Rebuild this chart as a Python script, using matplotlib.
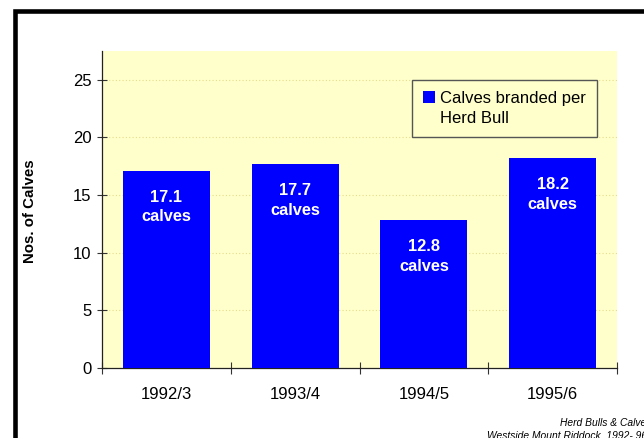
import matplotlib
matplotlib.use("Agg")
import matplotlib.pyplot as plt
from matplotlib.patches import Rectangle, Patch
from matplotlib.legend_handler import HandlerPatch
import numpy as np

categories = ["1992/3", "1993/4", "1994/5", "1995/6"]
calves_per_bull = [17.1, 17.7, 12.8, 18.2]
series_name = "Calves branded per\nHerd Bull"
y_ticks = [0, 5, 10, 15, 20, 25]

plt.rcParams['font.family'] = ['Liberation Sans', 'DejaVu Sans']

W, H = 644, 438
fig = plt.figure(figsize=(W / 100, H / 100), dpi=100)
fig.patch.set_facecolor("white")

# outer border (cropped on right/bottom)
fig.patches.append(Rectangle((14.8 / W, -0.2), 1.5, 1 - 11 / H + 0.2,
                             transform=fig.transFigure, fill=False,
                             edgecolor="black", linewidth=3.3))

ax = fig.add_axes([102 / W, 1 - 368 / H, (617 - 102) / W, (368 - 51) / H])
ax.set_facecolor("#ffffcc")

x = np.arange(len(categories))
bars = ax.bar(x, calves_per_bull, width=0.675, color="#0000ff", zorder=3)

ax.set_xlim(-0.5, len(categories) - 0.5)
ax.set_ylim(0, 27.5)
ax.set_yticks(y_ticks)
ax.set_yticklabels([str(v) for v in y_ticks], fontsize=12)
ax.yaxis.grid(True, linestyle=(0, (1, 2)), color="#e6dc8c", linewidth=0.8, zorder=1)
ax.set_axisbelow(True)

ax.set_xticks(x)
ax.set_xticklabels(categories, fontsize=12)
ax.set_xticks(np.arange(-0.5, len(categories)), minor=True)
ax.tick_params(axis="x", which="major", length=0, pad=14)
ax.tick_params(axis="x", which="minor", direction="inout", length=8, width=0.8, color="#333333")
ax.tick_params(axis="y", direction="inout", length=7, width=0.8, color="#333333", pad=4)

for s in ["top", "right"]:
    ax.spines[s].set_visible(False)
for s in ["left", "bottom"]:
    ax.spines[s].set_color("#222222")
    ax.spines[s].set_linewidth(0.9)

fig.text(30.5 / W, 1 - 211 / H, "Nos. of Calves", rotation=90, ha="center",
         va="center", fontsize=10.8, fontweight="bold")

for b, v in zip(bars, calves_per_bull):
    ax.annotate(f"{v}\ncalves", (b.get_x() + b.get_width() / 2, v),
                xytext=(0, -13.5), textcoords="offset points",
                ha="center", va="top", color="white", fontsize=11.8,
                fontweight="bold", linespacing=1.4, zorder=4)


class TopHandler(HandlerPatch):
    def create_artists(self, legend, orig_handle, xdescent, ydescent,
                       width, height, fontsize, trans):
        p = Rectangle((-xdescent, -ydescent + fontsize * 0.68), width, height,
                      facecolor=orig_handle.get_facecolor(), edgecolor="none",
                      transform=trans)
        return [p]


leg = ax.legend(handles=[Patch(facecolor="#0000ff", edgecolor="none")],
                labels=[series_name], loc="upper left",
                bbox_to_anchor=(412 / W, 1 - 80 / H), bbox_transform=fig.transFigure,
                handler_map={Patch: TopHandler()},
                fontsize=12, frameon=True, fancybox=False, framealpha=1,
                facecolor="#ffffcc", edgecolor="#555555",
                handlelength=0.7, handleheight=0.7, handletextpad=0.3,
                borderpad=0.68, borderaxespad=0)
leg.get_frame().set_linewidth(1.0)
leg.set_zorder(5)
for t in leg.get_texts():
    t.set_linespacing(1.35)

fig.text(651 / W, 1 - 422.5 / H, "Herd Bulls & Calves", ha="right", va="center",
         fontsize=7.4, style="italic")
fig.text(487 / W, 1 - 435 / H, "Westside Mount Riddock, 1992- 96", ha="left",
         va="center", fontsize=7.4, style="italic")

fig.savefig("out.png", dpi=100)
